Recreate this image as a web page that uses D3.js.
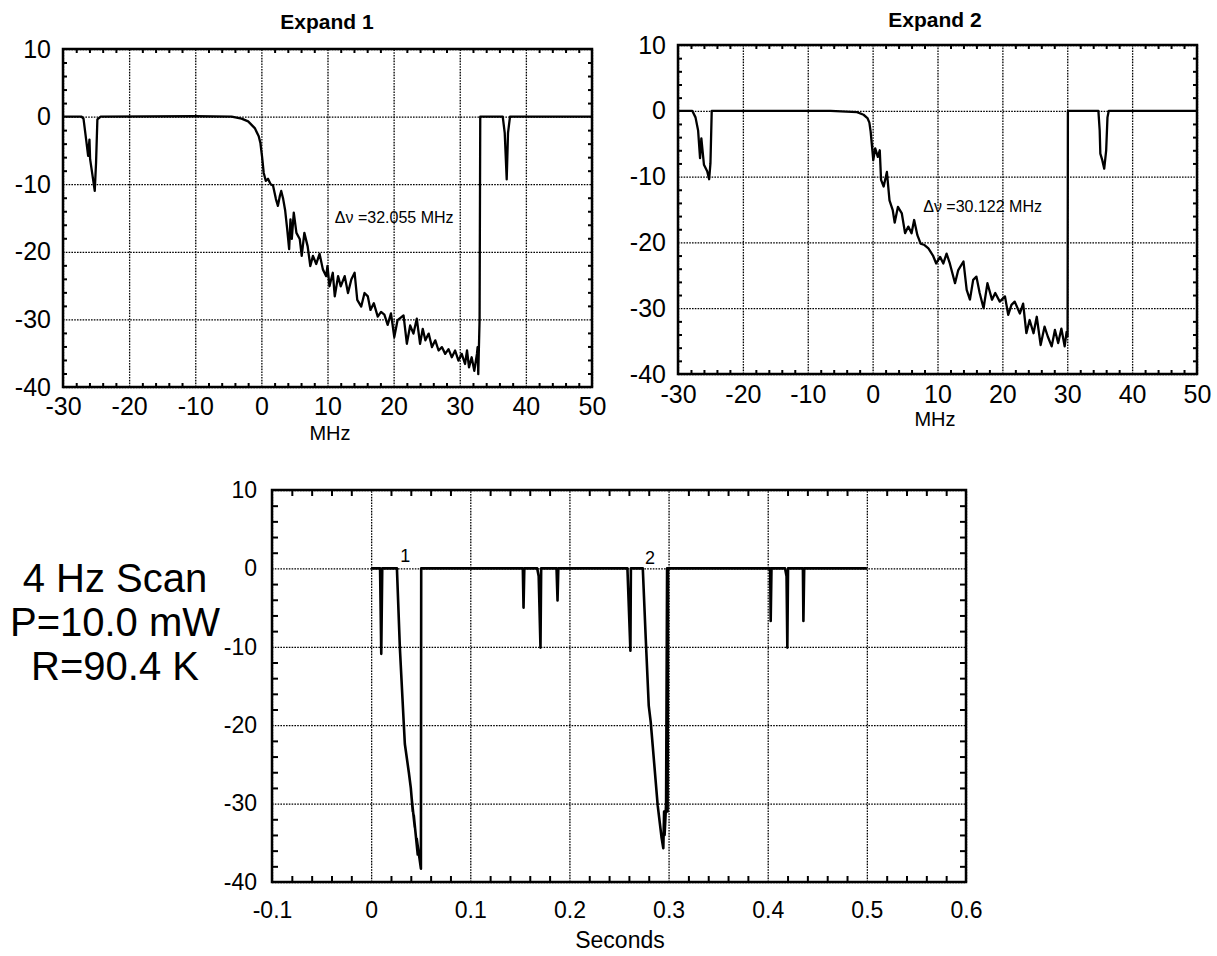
<!DOCTYPE html>
<html>
<head>
<meta charset="utf-8">
<script src="https://cdn.jsdelivr.net/npm/d3@7"></script>
<style>
  body { margin: 0; background: #fff; }
  svg { display: block; font-family: "Liberation Sans", Arial, Helvetica, sans-serif; }
</style>
</head>
<body>
<svg id="chart" width="1217" height="956"></svg>
<script>
// ---- Expand 1 trace (MHz, signal) ----
const expand1Freq = [-30, -27.2, -26.9, -26.5, -26.2, -26.0, -25.9, -25.6, -25.2, -25.0, -24.8, -24.3,
  -10, -4.5, -3.0, -2.0, -1.0, -0.4, -0.15, 0.1, 0.35, 0.66, 1.0, 1.4, 1.76, 2.2, 2.5, 2.8, 3.0, 3.3,
  3.6, 3.9, 4.2, 4.4, 4.6, 4.9, 5.3, 5.8, 6.1, 6.5, 7.0, 7.4, 7.8, 8.3, 8.8, 9.3, 9.8, 10.0, 10.3,
  10.8, 11.1, 11.6, 12.0, 12.6, 13.1, 13.6, 14.1, 14.5, 15.1, 15.6, 16.1, 16.5, 17.0, 17.6, 18.1,
  18.6, 19.1, 19.6, 20.1, 20.6, 21.5, 22.0, 22.5, 23.0, 23.5, 24.0, 24.4, 24.8, 25.3, 25.8, 26.3,
  26.8, 27.3, 27.8, 28.3, 28.8, 29.3, 29.8, 30.3, 30.8, 31.1, 31.4, 31.8, 32.2, 32.6, 32.7, 32.8,
  33.0, 33.1, 36.5, 36.8, 37.1, 37.3, 37.6, 50];
const expand1Signal = [0, 0, -0.3, -3.4, -5.8, -3.4, -6.3, -8.3, -11, -6.8, -0.4, 0,
  0.05, 0, -0.3, -0.7, -1.7, -2.9, -3.9, -5.9, -8.3, -9.5, -9.2, -10, -10.2, -12.2, -13.2, -11.7, -11, -12.2,
  -13.9, -16.6, -19.6, -15.2, -18.1, -14.2, -17.2, -18.1, -20.6, -17.2, -19.2, -22.1, -20.6, -21.8, -20.3, -22.6, -23.6, -22.1, -25.1,
  -23.1, -26.6, -23.6, -25.1, -23.6, -26.1, -24.1, -23.1, -27.1, -28.1, -26.1, -26.6, -28.6, -27.6, -29.6, -28.9,
  -29.3, -30.8, -29.1, -32.6, -30.1, -29.4, -33.6, -30.9, -32.1, -29.9, -33.6, -31.4, -33.1, -32.1, -34.1, -33.1,
  -34.6, -34.1, -35.1, -34.4, -35.6, -34.6, -36.1, -35.1, -36.6, -34.6, -37.1, -35.6, -37.6, -35.1, -34.1, -38.1,
  -30, 0, 0, -2.4, -9.3, -2.4, 0, 0];

// ---- Expand 2 trace (MHz, signal) ----
const expand2Freq = [-30, -27.8, -27.3, -26.9, -26.6, -26.4, -26.0, -25.5, -25.2, -25.0, -24.8,
  -6.5, -2.4, -1.4, -0.8, -0.5, -0.3, 0.1, 0.4, 0.8, 1.1, 1.3, 1.7, 2.2, 2.6, 3.1, 3.4, 3.9, 4.5,
  5.0, 5.5, 6.0, 6.4, 6.9, 7.4, 8.0, 8.6, 9.3, 9.8, 10.4, 10.9, 11.4, 11.9, 12.7, 13.2, 14.0, 14.5,
  15.0, 15.5, 16.0, 16.5, 17.1, 17.7, 18.4, 18.9, 19.6, 20.4, 20.9, 21.4, 21.9, 22.7, 23.2, 23.7,
  24.2, 24.8, 25.3, 25.9, 26.5, 27.0, 27.6, 28.1, 28.6, 29.1, 29.6, 29.9, 30.05, 30.1,
  34.8, 35.0, 35.1, 35.4, 35.7, 36.0, 36.2, 36.4, 50];
const expand2Signal = [0, 0, -1.0, -3.0, -7.2, -4.2, -8.2, -9.2, -10.4, -8, 0,
  0, -0.2, -0.6, -1.1, -1.8, -3.2, -7.5, -5.7, -7.0, -6.0, -10.5, -11.5, -9.3, -13.6, -15.1, -17, -14.6, -15.6,
  -18.6, -17.6, -18.6, -16.6, -18.9, -20.2, -20.4, -20.9, -22.0, -23.2, -22.2, -23.2, -21.7, -23.2, -26.2, -24.2, -22.9, -27.2,
  -28.7, -25.7, -25.2, -27.7, -30.0, -26.2, -28.7, -27.7, -29.0, -28.2, -31.0, -29.5, -29.0, -30.8, -29.3, -33.8,
  -31.8, -33.8, -31.3, -35.6, -32.8, -34.3, -35.8, -33.3, -35.3, -33.1, -35.8, -33.6, -34.3, 0,
  0, -3, -6.5, -7.5, -8.8, -6, -1, 0, 0];

// ---- 4 Hz scan trace (seconds, signal) ----
const scanTime = [0, 0.009, 0.0102, 0.0112, 0.026, 0.029, 0.033, 0.034, 0.038, 0.040, 0.042, 0.041,
  0.044, 0.043, 0.047, 0.046, 0.0502, 0.0505, 0.153, 0.1537, 0.1545, 0.1675, 0.169, 0.1708, 0.1715,
  0.187, 0.188, 0.1888, 0.2585, 0.2615, 0.262, 0.274, 0.277, 0.280, 0.282, 0.284, 0.289, 0.293,
  0.2947, 0.2955, 0.296, 0.2975, 0.2985, 0.299, 0.2995, 0.4025, 0.403, 0.4038, 0.4175, 0.419,
  0.4198, 0.4205, 0.4355, 0.436, 0.4368, 0.5];
const scanSignal = [0, 0, -10.9, 0, 0, -10.2, -20, -22.4, -26, -28, -31, -29.5,
  -33, -31.5, -36.5, -34.5, -38.3, 0, 0, -5, 0, 0, -1, -10.1, 0,
  0, -4.1, 0, 0, -10.5, 0, 0, -9, -17.5, -19.6, -22.6, -30.2, -34.4,
  -35.7, -31, -34, -30, 0, -31, 0, 0, -6.7, 0, 0, -1,
  -10.1, 0, 0, -6.7, 0, 0];

const mhzMajor = [-30, -20, -10, 0, 10, 20, 30, 40, 50];
const signalMajor = [10, 0, -10, -20, -30, -40];
const secondsMajor = [-0.1, 0, 0.1, 0.2, 0.3, 0.4, 0.5, 0.6];
const infoLines = ["4 Hz Scan", "P=10.0 mW", "R=90.4 K"];

const svg = d3.select("#chart");

function fmt(d) {
  // plain hyphen minus like the original plot
  return String(+d.toFixed(2)).replace("\u2212", "-");
}

function drawPanel(o) {
  const x = d3.scaleLinear().domain(o.xDomain).range([o.left, o.right]);
  const y = d3.scaleLinear().domain([-40, 10]).range([o.bottom, o.top]);
  const w = o.right - o.left;
  const h = o.bottom - o.top;
  const g = svg.append("g");

  // dotted grid
  g.append("g")
    .attr("transform", `translate(0,${o.bottom})`)
    .call(d3.axisBottom(x).tickValues(o.xMajor).tickSize(-h).tickFormat(""))
    .call((s) => s.select(".domain").remove());
  g.append("g")
    .attr("transform", `translate(${o.left},0)`)
    .call(d3.axisLeft(y).tickValues(signalMajor).tickSize(-w).tickFormat(""))
    .call((s) => s.select(".domain").remove());
  g.selectAll(".tick line")
    .attr("stroke", "#000")
    .attr("stroke-width", 1.3)
    .attr("stroke-dasharray", "1.6,1.2");

  // minor ticks on all four sides, pointing in
  const xMinor = o.xMinor.filter((v) => !o.xMajor.some((m) => Math.abs(m - v) < 1e-9));
  const yMinor = d3.range(-40, 10.01, 2).filter((v) => v % 10 !== 0);
  const minor = g.append("g");
  minor.append("g").attr("transform", `translate(0,${o.bottom})`)
    .call(d3.axisBottom(x).tickValues(xMinor).tickSize(-o.tick).tickFormat(""));
  minor.append("g").attr("transform", `translate(0,${o.top})`)
    .call(d3.axisTop(x).tickValues(xMinor).tickSize(-o.tick).tickFormat(""));
  minor.append("g").attr("transform", `translate(${o.left},0)`)
    .call(d3.axisLeft(y).tickValues(yMinor).tickSize(-o.tick).tickFormat(""));
  minor.append("g").attr("transform", `translate(${o.right},0)`)
    .call(d3.axisRight(y).tickValues(yMinor).tickSize(-o.tick).tickFormat(""));
  minor.selectAll(".domain").remove();
  minor.selectAll(".tick line").attr("stroke", "#000").attr("stroke-width", 2);

  // tick labels
  const xl = g.append("g")
    .attr("transform", `translate(0,${o.bottom})`)
    .call(d3.axisBottom(x).tickValues(o.xMajor).tickSize(0).tickPadding(o.xPad).tickFormat(fmt));
  const yl = g.append("g")
    .attr("transform", `translate(${o.left},0)`)
    .call(d3.axisLeft(y).tickValues(signalMajor).tickSize(0).tickPadding(o.yPad).tickFormat(fmt));
  [xl, yl].forEach((a) => {
    a.select(".domain").remove();
    a.attr("font-family", null).attr("font-size", o.labelSize);
    a.selectAll("text").attr("fill", "#000");
  });

  // trace
  const line = d3.line()
    .x((i) => x(o.xs[i]))
    .y((i) => y(o.ys[i]));
  g.append("path")
    .datum(d3.range(o.xs.length))
    .attr("d", line)
    .attr("fill", "none")
    .attr("stroke", "#000")
    .attr("stroke-width", o.lineWidth)
    .attr("stroke-linejoin", "round");

  // frame
  g.append("rect")
    .attr("x", o.left).attr("y", o.top)
    .attr("width", w).attr("height", h)
    .attr("fill", "none")
    .attr("stroke", "#000")
    .attr("stroke-width", 2.5);

  return { x, y, g };
}

// ---- Expand 1 ----
const p1 = drawPanel({
  left: 63, right: 592, top: 49, bottom: 387,
  xDomain: [-30, 50], xMajor: mhzMajor, xMinor: d3.range(-30, 50.01, 2),
  xs: expand1Freq, ys: expand1Signal,
  tick: 4, labelSize: 25, xPad: 10, yPad: 12, lineWidth: 2.3,
});
p1.g.append("text").attr("x", 327).attr("y", 29)
  .attr("text-anchor", "middle").attr("font-size", 21).attr("font-weight", "bold")
  .text("Expand 1");
p1.g.append("text").attr("x", 330).attr("y", 440)
  .attr("text-anchor", "middle").attr("font-size", 20).text("MHz");
p1.g.append("text").attr("x", p1.x(11.1)).attr("y", p1.y(-14.9)).attr("dy", "0.35em")
  .attr("font-size", 16).text("\u0394\u03bd =32.055 MHz");

// ---- Expand 2 ----
const p2 = drawPanel({
  left: 678, right: 1197, top: 45, bottom: 374,
  xDomain: [-30, 50], xMajor: mhzMajor, xMinor: d3.range(-30, 50.01, 2),
  xs: expand2Freq, ys: expand2Signal,
  tick: 4, labelSize: 25, xPad: 11, yPad: 12, lineWidth: 2.3,
});
p2.g.append("text").attr("x", 935).attr("y", 27)
  .attr("text-anchor", "middle").attr("font-size", 21).attr("font-weight", "bold")
  .text("Expand 2");
p2.g.append("text").attr("x", 935).attr("y", 426)
  .attr("text-anchor", "middle").attr("font-size", 20).text("MHz");
p2.g.append("text").attr("x", p2.x(7.8)).attr("y", p2.y(-14.6)).attr("dy", "0.35em")
  .attr("font-size", 16).text("\u0394\u03bd =30.122 MHz");

// ---- 4 Hz scan ----
const p3 = drawPanel({
  left: 272, right: 966, top: 490, bottom: 882,
  xDomain: [-0.1, 0.6], xMajor: secondsMajor, xMinor: d3.range(-5, 31).map((i) => i * 0.02),
  xs: scanTime, ys: scanSignal,
  tick: 6, labelSize: 23, xPad: 20, yPad: 15, lineWidth: 2.6,
});
p3.g.append("text").attr("x", 620).attr("y", 948)
  .attr("text-anchor", "middle").attr("font-size", 23).text("Seconds");
p3.g.append("text").attr("x", p3.x(0.0344)).attr("y", p3.y(0.8))
  .attr("text-anchor", "middle").attr("font-size", 18).text("1");
p3.g.append("text").attr("x", p3.x(0.2813)).attr("y", p3.y(0.55))
  .attr("text-anchor", "middle").attr("font-size", 18).text("2");

svg.append("g")
  .selectAll("text")
  .data(infoLines)
  .join("text")
  .attr("x", 115)
  .attr("y", (d, i) => 592 + i * 44)
  .attr("text-anchor", "middle")
  .attr("font-size", 40)
  .text((d) => d);
</script>
</body>
</html>
